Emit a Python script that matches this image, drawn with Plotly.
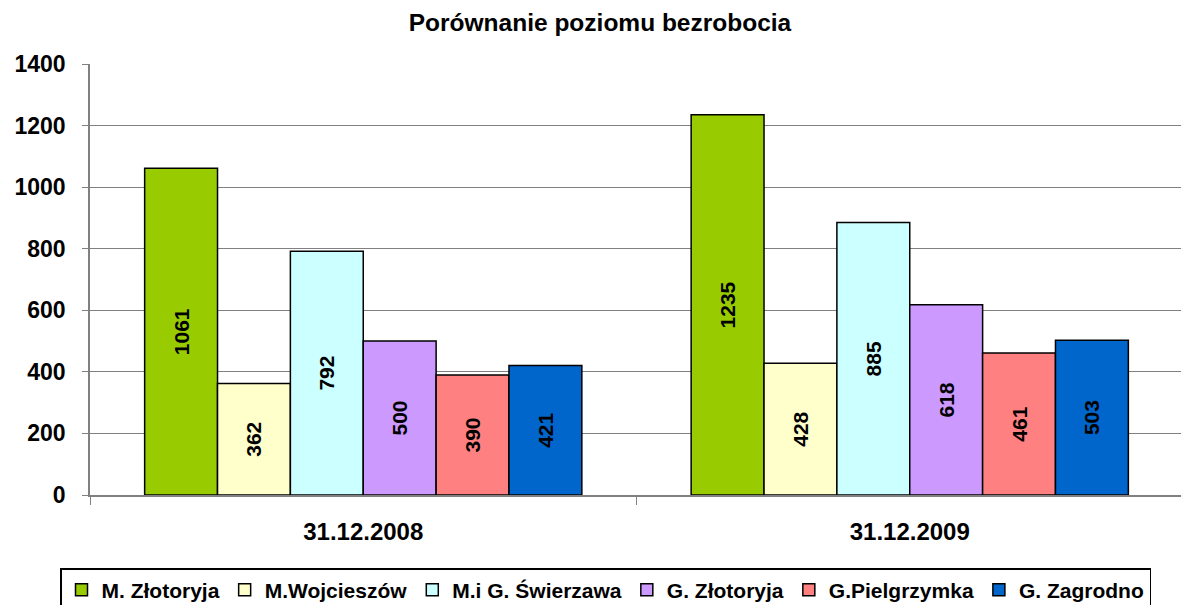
import plotly.graph_objects as go

categories = ["31.12.2008", "31.12.2009"]
series_names = ["M. Złotoryja", "M.Wojcieszów", "M.i G. Świerzawa", "G. Złotoryja", "G.Pielgrzymka", "G. Zagrodno"]
m_zlotoryja = [1061, 1235]
m_wojcieszow = [362, 428]
mig_swierzawa = [792, 885]
g_zlotoryja = [500, 618]
g_pielgrzymka = [390, 461]
g_zagrodno = [421, 503]
colors = ["#99CC00", "#FFFFCC", "#CCFFFF", "#CC99FF", "#FF8080", "#0066CC"]
y_ticks = [0, 200, 400, 600, 800, 1000, 1200, 1400]

series_values = [m_zlotoryja, m_wojcieszow, mig_swierzawa, g_zlotoryja, g_pielgrzymka, g_zagrodno]

FONT = "Liberation Sans, Arial, sans-serif"
W, H = 1189, 605

fig = go.Figure()
for name, vals, col in zip(series_names, series_values, colors):
    fig.add_trace(go.Bar(
        name=name, x=categories, y=vals,
        marker=dict(color=col, line=dict(color="black", width=1.5)),
        text=[str(v) for v in vals], textposition="inside",
        insidetextanchor="middle", textangle=-90,
        textfont=dict(family=FONT, size=21, color="black", weight="bold"),
        constraintext="none",
    ))

fig.update_layout(
    width=W, height=H,
    barmode="group", bargap=0.2, bargroupgap=0,
    plot_bgcolor="white", paper_bgcolor="white",
    margin=dict(l=82, r=14, t=56, b=118, autoexpand=False),
    title=dict(text="<b>Porównanie poziomu bezrobocia</b>", x=592/W, xanchor="center",
               xref="container", yref="container",
               y=1-14/H, yanchor="middle", automargin=False,
               font=dict(family=FONT, size=24.5, color="black")),
    font=dict(family=FONT, color="black"),
    showlegend=True,
    legend=dict(orientation="h", xref="container", yref="container",
                x=52/W, xanchor="left", y=1-560/H, yanchor="top",
                bgcolor="white", bordercolor="black", borderwidth=1.5,
                font=dict(family=FONT, size=21, color="black", weight="bold"),
                itemwidth=30, tracegroupgap=0, traceorder="normal"),
)
fig.update_yaxes(range=[0, 1400], tickvals=y_ticks, showgrid=True, gridcolor="#808080", gridwidth=1.3,
                 showline=True, linecolor="#808080", linewidth=1.5, ticks="outside", ticklen=6,
                 tickcolor="#808080", ticklabelstandoff=12, automargin=False,
                 tickfont=dict(family=FONT, size=23, color="black", weight="bold"),
                 zeroline=False)
fig.update_xaxes(showline=True, linecolor="#808080", linewidth=1.5, ticks="outside", ticklen=8,
                 tickcolor="#808080", tickson="boundaries", ticklabelstandoff=14, automargin=False,
                 tickfont=dict(family=FONT, size=24, color="black", weight="bold"))

fig.write_html("out.html")
